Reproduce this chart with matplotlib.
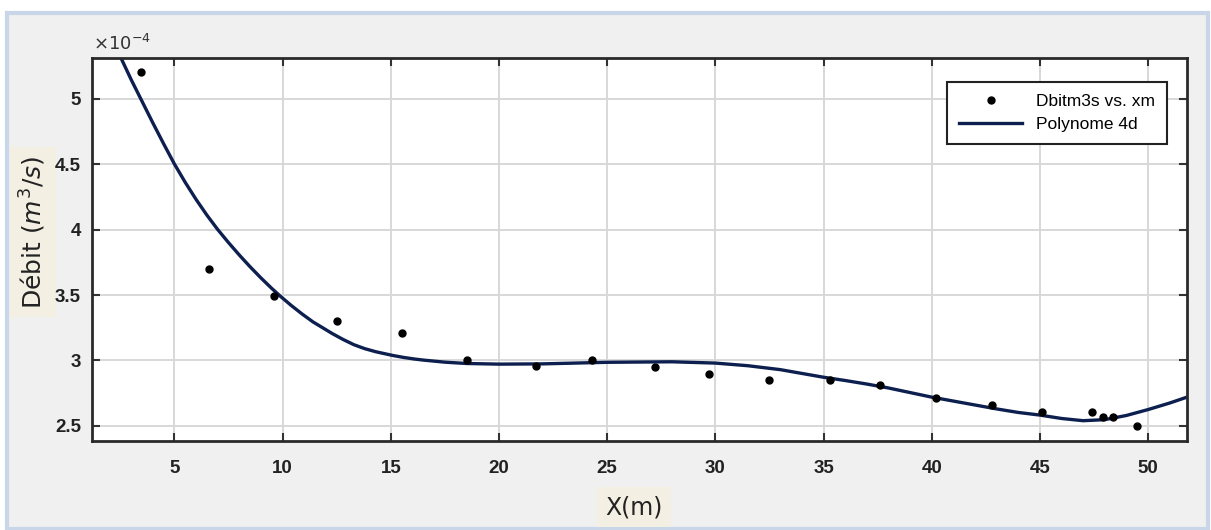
import matplotlib
matplotlib.use("Agg")
import matplotlib.pyplot as plt
from matplotlib.patches import Rectangle
from matplotlib import font_manager

# ---- data (y in units of 1e-4 m^3/s) ----
x_data = [3.45, 6.6, 9.6, 12.5, 15.5, 18.5, 21.7, 24.3, 27.2, 29.7,
          32.5, 35.3, 37.6, 40.2, 42.8, 45.1, 47.4, 47.9, 48.4, 49.5]
y_data = [5.20, 3.70, 3.49, 3.30, 3.21, 3.00, 2.96, 3.00, 2.95, 2.90,
          2.85, 2.85, 2.81, 2.71, 2.66, 2.61, 2.61, 2.57, 2.57, 2.50]

# fitted curve (4th-degree polynomial)
fit_x = [2.53, 3.0, 3.5, 4.0, 4.5, 5.0, 5.5, 6.0, 6.5, 7.0, 7.5, 8.0,
         8.5, 9.0, 9.5, 9.9, 10.4, 10.9, 11.4, 11.9, 12.3, 12.8, 13.3,
         13.8, 14.3, 14.6, 15.1, 15.6, 16.1, 16.5, 17.5, 18.5, 20.0,
         22.0, 25.0, 28.0, 30.0, 31.5, 33.0, 35.0, 36.0, 37.0, 38.0,
         39.0, 40.0, 41.0, 42.0, 43.0, 44.0, 45.0, 46.0, 47.0, 48.0,
         49.0, 50.0, 51.0, 51.8]
fit_y = [5.31, 5.145, 4.98, 4.815, 4.655, 4.50, 4.36, 4.23, 4.11, 4.00,
         3.90, 3.805, 3.715, 3.63, 3.55, 3.49, 3.42, 3.355, 3.295, 3.245,
         3.205, 3.16, 3.12, 3.09, 3.067, 3.056, 3.038, 3.023, 3.011,
         3.003, 2.987, 2.977, 2.972, 2.974, 2.986, 2.99, 2.98, 2.96,
         2.93, 2.872, 2.847, 2.82, 2.79, 2.755, 2.72, 2.69, 2.66, 2.63,
         2.603, 2.583, 2.557, 2.54, 2.548, 2.58, 2.625, 2.675, 2.72]

x_ticks = [5, 10, 15, 20, 25, 30, 35, 40, 45, 50]
y_ticks = [2.5, 3, 3.5, 4, 4.5, 5]
y_tick_labels = ["2.5", "3", "3.5", "4", "4.5", "5"]

names = {f.name for f in font_manager.fontManager.ttflist}
narrow = "Liberation Sans Narrow" if "Liberation Sans Narrow" in names else "Liberation Sans"

W, H = 1211, 530
fig = plt.figure(figsize=(W / 100, H / 100), dpi=100, facecolor="white")

def fx(px):
    return px / W

def fy(py):
    return (H - py) / H

# outer frame
frame = Rectangle((fx(7), fy(529)), fx(1208) - fx(7), fy(13) - fy(529),
                  transform=fig.transFigure, facecolor="#f0f0f0",
                  edgecolor="#c9d5e8", linewidth=3.0, zorder=-10)
fig.patches.append(frame)

ax = fig.add_axes([fx(92), fy(441), fx(1187) - fx(92), fy(58) - fy(441)])
ax.set_zorder(5)
ax.set_facecolor("white")
ax.set_xlim(1.19, 51.8)
ax.set_ylim(2.385, 5.31)

ax.grid(True, color="#d8d8d8", linewidth=1.4)
ax.set_axisbelow(True)

ax.plot(x_data, y_data, linestyle="none", marker="o", markersize=5,
        color="black", label="Dbitm3s vs. xm", zorder=3)
ax.plot(fit_x, fit_y, color="#0c1f4e", linewidth=2.4, label="Polynome 4d",
        zorder=2, solid_joinstyle="round")

ax.set_xticks(x_ticks)
ax.set_xticklabels([str(t) for t in x_ticks])
ax.set_yticks(y_ticks)
ax.set_yticklabels(y_tick_labels)
ax.tick_params(direction="in", length=6, width=1.5, color="#333333",
               top=True, right=True, labelsize=13.5, labelcolor="#222222", pad=8)
for lab in ax.get_xticklabels() + ax.get_yticklabels():
    lab.set_fontfamily(narrow)
    lab.set_fontweight("bold")
ax.tick_params(axis="x", pad=14)

for s in ax.spines.values():
    s.set_color("#2a2a2a")
    s.set_linewidth(2.0)

leg = ax.legend(loc="upper right", bbox_to_anchor=(fx(1167), fy(82)),
                bbox_transform=fig.transFigure, frameon=True, fancybox=False,
                prop={"family": narrow, "size": 12.5}, borderpad=0.7,
                handlelength=3.6, labelspacing=0.45, borderaxespad=0)
leg.get_frame().set_edgecolor("#222222")
leg.get_frame().set_linewidth(1.5)
leg.get_frame().set_facecolor("white")
leg.get_frame().set_alpha(1)

# exponent label
fig.text(fx(93), fy(50), r"$\times10^{-4}$", fontsize=13, color="#333333",
         ha="left", va="baseline", family=narrow)

# axis labels with beige boxes
fig.text(fx(33), fy(232), r"Débit ($m^3/s$)", rotation=90, fontsize=18,
         ha="center", va="center", color="#222222", family="DejaVu Sans",
         bbox=dict(facecolor="#f3efe2", edgecolor="none", pad=6))
fig.text(fx(634), fy(507), "X(m)", fontsize=17, ha="center", va="center",
         color="#222222", family="DejaVu Sans",
         bbox=dict(facecolor="#f3efe2", edgecolor="none", pad=6))

fig.savefig("out.png", dpi=100, facecolor=fig.get_facecolor())
